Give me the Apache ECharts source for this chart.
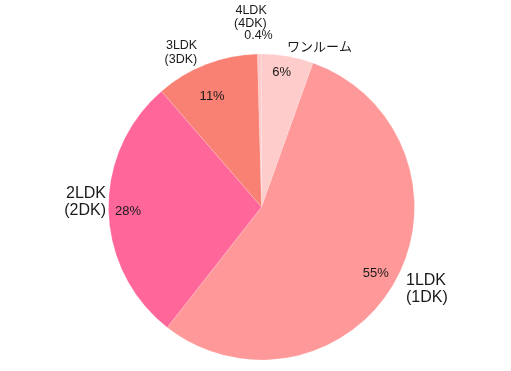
<!DOCTYPE html>
<html><head><meta charset="utf-8">
<script src="https://cdn.jsdelivr.net/npm/echarts@6/dist/echarts.min.js"></script>
<style>html,body{margin:0;padding:0;background:#fff}#c{width:511px;height:371px}</style>
</head><body><div id="c"></div>
<script>
// data
const categories = ['4LDK', 'ワンルーム', '1LDK', '2LDK', '3LDK'];
const nameLabels = ['4LDK\n(4DK)', 'ワンルーム', '1LDK\n(1DK)', '2LDK\n(2DK)', '3LDK\n(3DK)'];
const shares = [0.4, 5.5, 55.1, 28.1, 10.9];

// styles
const colors = ['#FFC8C8', '#FFCCCC', '#FF9999', '#FF6699', '#F98174'];
const nameFont = [12.5, 13, 16, 16, 12.5];
const nameLH = [13, 16, 17, 17, 14];
const nameShift = [[12.5, -36.5], [-5.5, -8.5], [5.5, 8], [2.5, -9], [-4, -12]];
const pctShift = [[18.5, -18], [-2, -5], [-0.5, 3], [-2.5, 1.5], [-2, 12]];
const FONT = "'Liberation Sans', 'Noto Sans CJK JP', sans-serif";
const R = 153, CENTER = [261.5, 207];

function pctText(v) { return v < 1 ? v.toFixed(1) + '%' : Math.round(v) + '%'; }

const chart = echarts.init(document.getElementById('c'), null, {renderer: 'canvas'});
chart.setOption({
  animation: false,
  backgroundColor: '#fff',
  series: [
    {
      type: 'pie',
      center: CENTER,
      radius: [0, R],
      startAngle: 91.57,
      clockwise: true,
      avoidLabelOverlap: false,
      emphasis: {disabled: true},
      itemStyle: {borderColor: 'rgba(255,255,255,0.45)', borderWidth: 0.4},
      labelLine: {show: false, length: 0, length2: 0},
      label: {
        show: true, position: 'outside', distanceToLabelLine: 5,
        fontFamily: FONT, color: '#1a1a1a',
        formatter: p => nameLabels[p.dataIndex]
      },
      labelLayout: p => ({dx: nameShift[p.dataIndex][0], dy: nameShift[p.dataIndex][1]}),
      data: categories.map((c, i) => ({
        name: c, value: shares[i],
        itemStyle: {color: colors[i]},
        label: {fontSize: nameFont[i], lineHeight: nameLH[i]}
      }))
    },
    {
      type: 'pie',
      center: CENTER,
      radius: [103, R],
      startAngle: 91.57,
      clockwise: true,
      silent: true,
      avoidLabelOverlap: false,
      emphasis: {disabled: true},
      itemStyle: {color: 'rgba(0,0,0,0)', borderWidth: 0},
      labelLine: {show: false, length: 0, length2: 0},
      label: {
        show: true, position: 'inside', distanceToLabelLine: 5,
        fontFamily: FONT, fontSize: 13, color: '#1a1a1a',
        formatter: p => pctText(p.value)
      },
      labelLayout: p => ({dx: pctShift[p.dataIndex][0], dy: pctShift[p.dataIndex][1]}),
      data: categories.map((c, i) => ({
        name: c, value: shares[i],
        label: i === 0 ? {position: 'outside', fontSize: 12.5} : {}
      }))
    }
  ]
});
</script>
</body></html>
